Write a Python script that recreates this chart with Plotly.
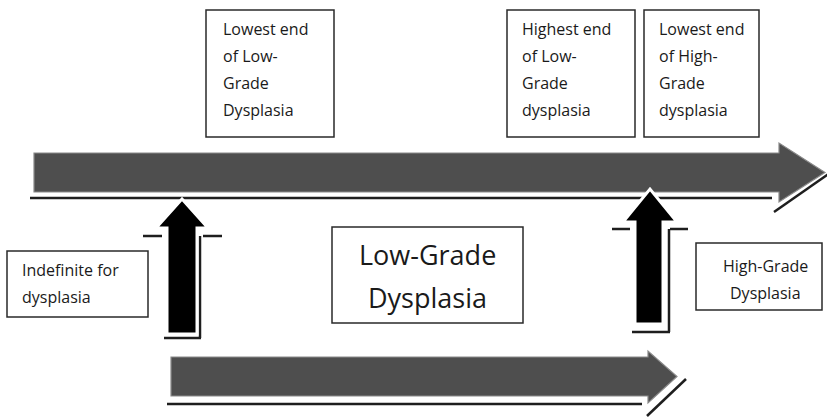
import plotly.graph_objects as go

W, H = 827, 418
FONT = "Open Sans"

# ---- text content ----
top_box_labels = [
    ["Lowest end", "of Low-", "Grade", "Dysplasia"],
    ["Highest end", "of Low-", "Grade", "dysplasia"],
    ["Lowest end", "of High-", "Grade", "dysplasia"],
]
left_box_label = ["Indefinite for", "dysplasia"]
center_box_label = ["Low-Grade", "Dysplasia"]
right_box_label = ["High-Grade", "Dysplasia"]

# ---- layout geometry (pixel space) ----
top_boxes = [(206, 10, 334, 137), (507, 10, 635, 137), (644, 10, 759, 137)]
top_text_x = [221, 520, 657]
top_line_y = [29, 56, 83, 110]
left_box = (7, 251, 148, 317)
center_box = (332, 227, 523, 323)
right_box = (696, 243, 822, 310)

shapes = []

def box(b):
    shapes.append(dict(type="rect", x0=b[0], y0=b[1], x1=b[2], y1=b[3],
                       line=dict(color="#2a2a2a", width=1.5), fillcolor="white", layer="above"))

def gray_arrow(x0, yt, yb, xh, ht, hb, tip):
    yc = (yt + yb) / 2
    p = (f"M {x0},{yt} L {xh},{yt} L {xh},{ht} L {tip},{yc} L {xh},{hb} "
         f"L {xh},{yb} L {x0},{yb} Z")
    shapes.append(dict(type="path", path=p, fillcolor="#4e4e4e",
                       line=dict(color="#8a8a8a", width=1.2), layer="above"))

def line(x0, y0, x1, y1, w=2.5, c="#1e1e1e"):
    shapes.append(dict(type="line", x0=x0, y0=y0, x1=x1, y1=y1,
                       line=dict(color=c, width=w), layer="above"))

def up_arrow(sx0, sx1, hx0, hx1, hy, tipy, bot):
    tx = (hx0 + hx1) / 2
    p = (f"M {sx0},{bot} L {sx0},{hy} L {hx0},{hy} L {tx},{tipy} L {hx1},{hy} "
         f"L {sx1},{hy} L {sx1},{bot} Z")
    shapes.append(dict(type="path", path=p, fillcolor="#000000",
                       line=dict(color="white", width=3), layer="above"))

# top gray arrow and its underline
line(30, 198, 772, 198)
line(774, 212, 830, 173)
gray_arrow(34, 153, 192, 779, 143, 202, 825)

# bottom gray arrow and its underline
line(167, 404, 642, 404)
line(647, 416, 686, 379)
gray_arrow(171, 357, 396, 648, 351, 403, 677)

# left black arrow + shadow lines
line(200, 236, 200, 338)
line(143, 236, 162, 236)
line(203, 236, 222, 236)
line(164, 338, 201, 338)
up_arrow(167, 197, 156, 208, 228, 199, 334)

# right black arrow + shadow lines
line(669, 229, 669, 332)
line(612, 229, 630, 229)
line(670, 229, 688, 229)
line(632, 332, 670, 332)
up_arrow(635, 663, 623, 677, 222, 189, 324)

for b in top_boxes:
    box(b)
box(left_box)
box(center_box)
box(right_box)

ann = []
def txt(x, y, s, size, anchor="left"):
    ann.append(dict(x=x, y=y, text=s, showarrow=False, xanchor=anchor, yanchor="middle",
                    font=dict(family=FONT, size=size, color="#1a1a1a")))

for labels, tx in zip(top_box_labels, top_text_x):
    for s, ty in zip(labels, top_line_y):
        txt(tx, ty, s, 16)

for s, ty in zip(left_box_label, [270, 297]):
    txt(20, ty, s, 16)
for s, ty in zip(center_box_label, [254, 297]):
    txt(427, ty, s, 27, "center")
for s, ty in zip(right_box_label, [266, 293]):
    txt(765, ty, s, 16, "center")

fig = go.Figure()
fig.update_layout(
    width=W, height=H, margin=dict(l=0, r=0, t=0, b=0),
    paper_bgcolor="white", plot_bgcolor="white",
    xaxis=dict(range=[0, W], visible=False, fixedrange=True),
    yaxis=dict(range=[H, 0], visible=False, fixedrange=True),
    shapes=shapes, annotations=ann, showlegend=False,
)
fig.write_html("out.html", config={"displayModeBar": False},
               post_script="document.body.style.margin='0';document.body.style.overflow='hidden';")
